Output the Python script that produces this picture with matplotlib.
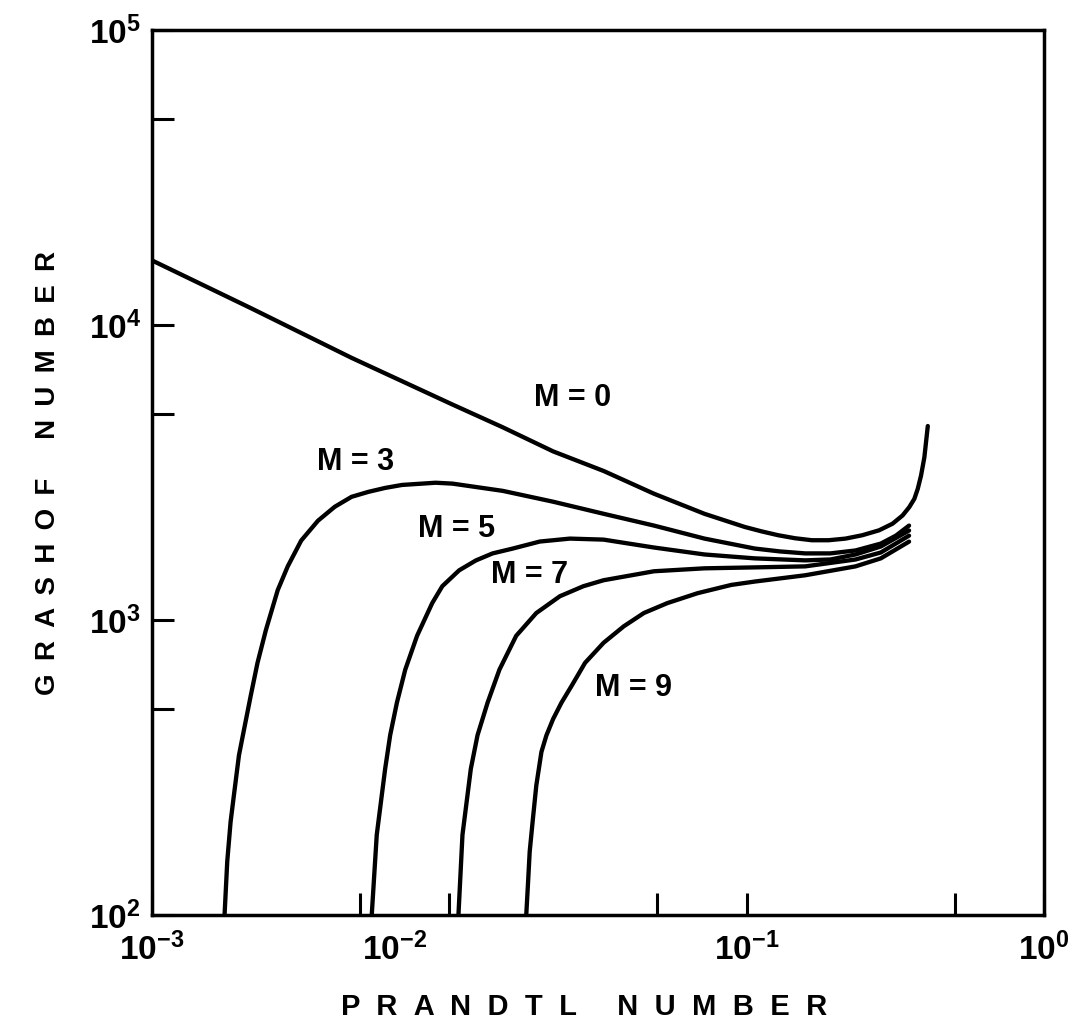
import numpy as np
import matplotlib.pyplot as plt
import matplotlib.transforms as mtransforms

plt.rcParams['font.family'] = ['Liberation Sans', 'DejaVu Sans']
plt.rcParams['font.weight'] = 'bold'

## the data
pr_m0 = [0.001, 0.00215, 0.00469, 0.01023, 0.01513, 0.02233, 0.03304, 0.04877,
         0.07211, 0.09845, 0.1121, 0.1277, 0.1455, 0.1657, 0.1886, 0.2149,
         0.2447, 0.2787, 0.3094, 0.3344, 0.3522, 0.3663, 0.3760, 0.3857,
         0.3958, 0.4065]
gr_m0 = [16560, 11410, 7740, 5380, 4500, 3730, 3200, 2680,
         2291, 2068, 1998, 1938, 1893, 1864, 1864, 1888,
         1938, 2014, 2121, 2262, 2414, 2575, 2782, 3085,
         3558, 4546]

pr_m3 = [0.001754, 0.001791, 0.001838, 0.001886, 0.001961, 0.002040, 0.002149,
         0.002264, 0.002416, 0.002647, 0.002861, 0.003175, 0.003616, 0.004117,
         0.004690, 0.005341, 0.006082, 0.006930, 0.008988, 0.01024, 0.01513,
         0.02233, 0.03304, 0.04877, 0.07211, 0.1064, 0.1294, 0.1573, 0.1912,
         0.2323, 0.2825, 0.3175, 0.3516]
gr_m3 = [100, 152, 207, 255, 348, 426, 555,
         716, 925, 1262, 1520, 1859, 2171, 2420,
         2616, 2719, 2804, 2870, 2920, 2900, 2740,
         2518, 2291, 2090, 1888, 1747, 1708, 1682, 1682,
         1721, 1816, 1932, 2090]

pr_m5 = [0.005483, 0.005700, 0.006083, 0.006324, 0.006664, 0.007108, 0.007789,
         0.008757, 0.009469, 0.01079, 0.01228, 0.01398, 0.01635, 0.02014,
         0.02545, 0.03301, 0.04012, 0.04877, 0.07211, 0.1064, 0.1573, 0.1912,
         0.2323, 0.2825, 0.3516]
gr_m5 = [100, 187, 313, 407, 525, 679, 884,
         1141, 1302, 1474, 1592, 1682, 1747, 1845,
         1888, 1873, 1816, 1761, 1668, 1618, 1593, 1604,
         1668, 1775, 2011]

pr_m7 = [0.01073, 0.01107, 0.01181, 0.01244, 0.01345, 0.01474, 0.01678,
         0.01961, 0.02354, 0.02824, 0.03301, 0.04877, 0.07211, 0.1064,
         0.1573, 0.2323, 0.2825, 0.3516]
gr_m7 = [100, 187, 313, 407, 525, 679, 884,
         1056, 1204, 1302, 1364, 1463, 1497, 1508,
         1520, 1604, 1694, 1932]

pr_m9 = [0.01814, 0.01838, 0.01863, 0.01911, 0.01961, 0.02040, 0.02120,
         0.02234, 0.02384, 0.02577, 0.02861, 0.03301, 0.03860, 0.04510,
         0.05408, 0.06838, 0.08870, 0.1064, 0.1573, 0.2323, 0.2825, 0.3516]
gr_m9 = [100, 127, 164, 213, 275, 357, 406,
         462, 525, 598, 716, 837, 952, 1056,
         1141, 1233, 1315, 1350, 1418, 1520, 1618, 1844]

labels = ['M = 0', 'M = 3', 'M = 5', 'M = 7', 'M = 9']
label_x = [0.02594, 0.004842, 0.01056, 0.01866, 0.04169]
label_y = [5678, 3428, 2042, 1418, 590]

fig = plt.figure(figsize=(10.88, 10.36), dpi=100)
ax = fig.add_axes([0.1397, 0.1168, 0.8199, 0.8542])

for xs, ys in [(pr_m0, gr_m0), (pr_m3, gr_m3), (pr_m5, gr_m5),
               (pr_m7, gr_m7), (pr_m9, gr_m9)]:
    ax.plot(xs, ys, color='black', lw=3.1, solid_capstyle='round',
            solid_joinstyle='round')

for txt, lx, ly in zip(labels, label_x, label_y):
    ax.text(lx, ly, txt, fontsize=22, fontweight='bold',
            ha='center', va='center')

ax.set_xscale('log')
ax.set_yscale('log')
ax.set_xlim(1e-3, 1e0)
ax.set_ylim(1e2, 1e5)

# axes and ticks
ax.set_xticks([1e-3, 1e-2, 1e-1, 1e0])
ax.set_xticklabels([r'$\mathregular{10^{-3}}$', r'$\mathregular{10^{-2}}$',
                    r'$\mathregular{10^{-1}}$', r'$\mathregular{10^{0}}$'])
ax.set_xticks([5e-3, 5e-2, 5e-1], minor=True)
ax.set_xticklabels([], minor=True)
ax.set_yticks([1e2, 1e3, 1e4, 1e5])
ax.set_yticklabels([r'$\mathregular{10^{2}}$', r'$\mathregular{10^{3}}$',
                    r'$\mathregular{10^{4}}$', r'$\mathregular{10^{5}}$'])
ax.set_yticks([5e2, 5e3, 5e4], minor=True)
ax.set_yticklabels([], minor=True)

ax.tick_params(which='both', direction='in', length=16, width=2.2,
               labelsize=24, top=False, right=False)
ax.tick_params(axis='x', which='major', pad=13)
ax.tick_params(axis='y', which='major', pad=8)

# the 10^-2 label sits left of its tick in the original
lab = ax.get_xticklabels()[1]
lab.set_transform(lab.get_transform() +
                  mtransforms.ScaledTranslation(-0.55, 0, fig.dpi_scale_trans))

for sp in ax.spines.values():
    sp.set_linewidth(2.5)

sep = ' \u2009\u200a'
xl = sep.join('PRANDTL') + '     ' + sep.join('NUMBER')
yl = ' \u2009'.join('GRASHOF') + '     ' + ' \u2009'.join('NUMBER')
ax.set_xlabel(xl, fontsize=21, fontweight='bold', labelpad=18)
ax.set_ylabel(yl, fontsize=20, fontweight='bold', labelpad=20)
ax.xaxis.label.set_x(0.484)

fig.savefig('out.png', dpi=100, facecolor='white')
